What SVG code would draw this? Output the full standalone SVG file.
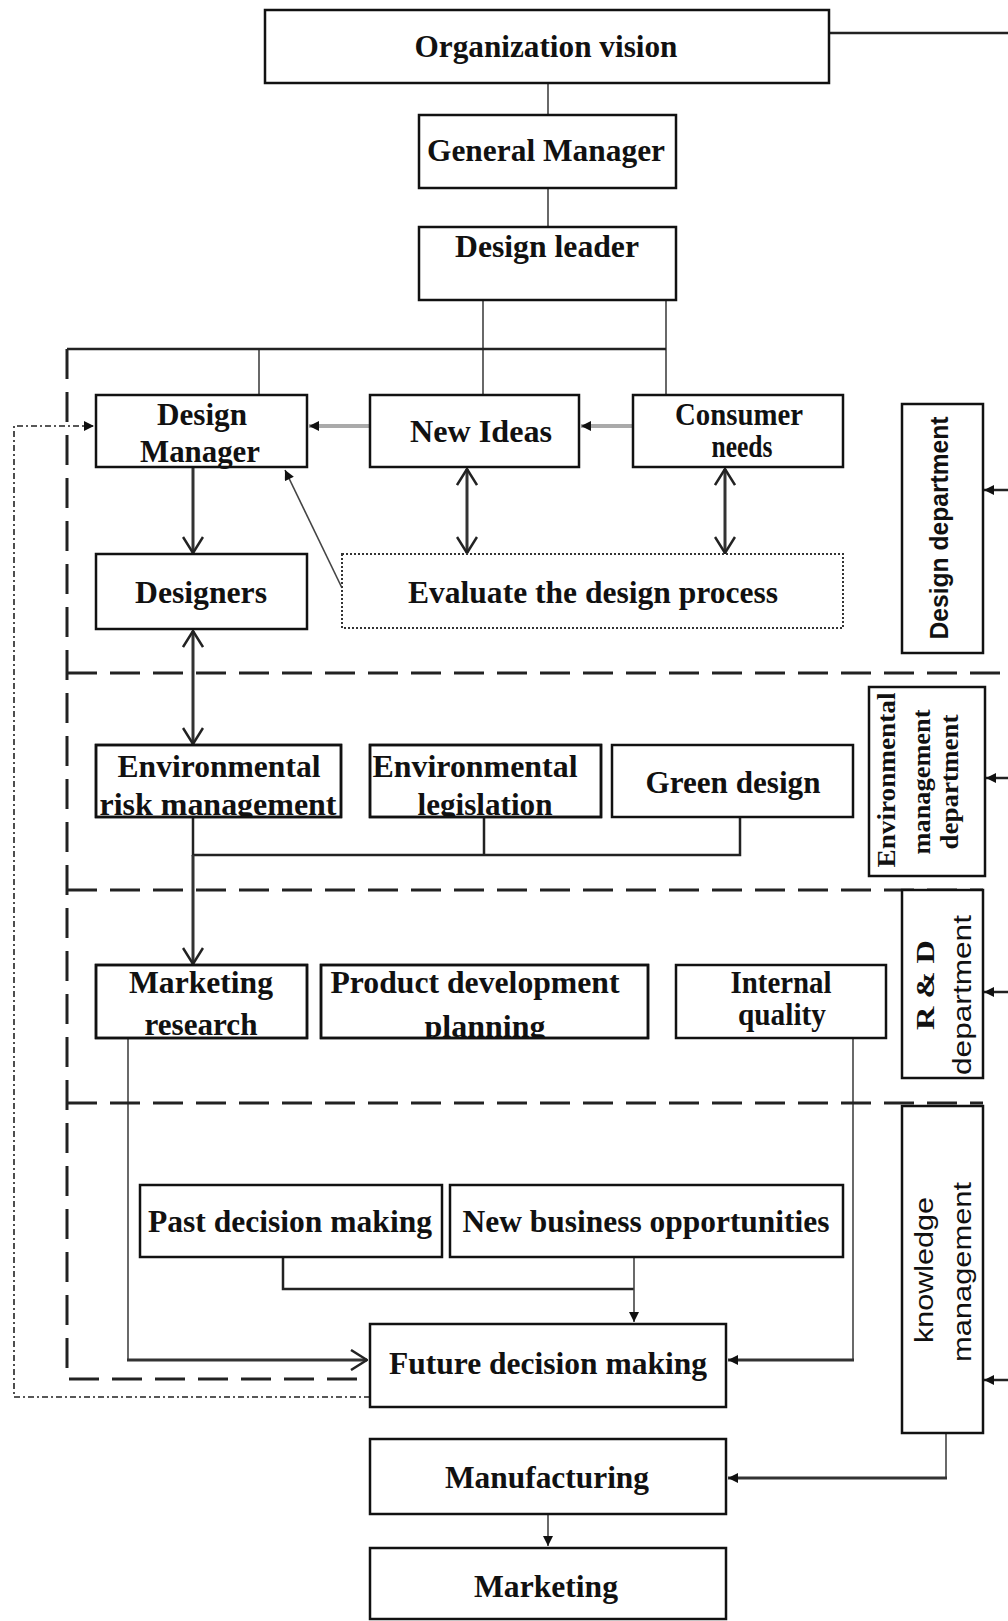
<svg xmlns="http://www.w3.org/2000/svg" width="1008" height="1621" viewBox="0 0 1008 1621">
<style>
.box{fill:#fff;stroke:#111;stroke-width:2.5}
.t{font-family:"Liberation Serif","Times New Roman",serif;font-weight:bold;font-size:31px;fill:#111;text-anchor:middle}
.v{font-family:"Liberation Serif","Times New Roman",serif;font-weight:bold;font-size:25px;fill:#111;text-anchor:middle}
.vs{font-family:"Liberation Sans",Arial,sans-serif;font-size:26px;fill:#111;text-anchor:middle}
.thin{fill:none;stroke:#444;stroke-width:1.6}
.mid{fill:none;stroke:#222;stroke-width:2.5}
.thick{fill:none;stroke:#333;stroke-width:3}
.gray{fill:none;stroke:#aaa;stroke-width:4}
.dash{fill:none;stroke:#222;stroke-width:3;stroke-dasharray:30 13}
.dashdot{fill:none;stroke:#222;stroke-width:1.6;stroke-dasharray:6 3 2 3}
</style>
<defs>
<marker id="tri" viewBox="0 0 10 10" refX="10" refY="5" markerWidth="11" markerHeight="10" markerUnits="userSpaceOnUse" orient="auto-start-reverse"><path d="M0,0 L10,5 L0,10 z" fill="#111"/></marker>
<marker id="chev" viewBox="0 0 18 22" refX="17" refY="11" markerWidth="18" markerHeight="22" markerUnits="userSpaceOnUse" orient="auto-start-reverse"><path d="M1,1 L17,11 L1,21" fill="none" stroke="#222" stroke-width="2.5"/></marker>
<clipPath id="c-erm"><rect x="96" y="745" width="245" height="72"/></clipPath>
<clipPath id="c-el"><rect x="370" y="745" width="231" height="72"/></clipPath>
<clipPath id="c-mr"><rect x="96" y="965" width="211" height="73"/></clipPath>
<clipPath id="c-pdp"><rect x="321" y="965" width="327" height="73"/></clipPath>
</defs>

<g id="connectors">
<path class="thin" d="M548,83 V115 M548,188 V227 M483,300 V395 M666,300 V395 M259,349 V395"/>
<path class="mid" d="M67,349 H666"/>
<path class="mid" d="M829,33 H1008"/>
<path class="gray" d="M370,426 H309" marker-end="url(#tri)"/>
<path class="gray" d="M633,426 H581" marker-end="url(#tri)"/>
<path class="dashdot" d="M370,1397 H14 V426 H94" marker-end="url(#tri)"/>
<path class="thin" d="M342,588 L285,470" marker-end="url(#tri)"/>
<path class="thick" d="M193,467 V553" marker-end="url(#chev)"/>
<path class="thick" d="M467,469 V553" marker-start="url(#chev)" marker-end="url(#chev)"/>
<path class="thick" d="M725,469 V553" marker-start="url(#chev)" marker-end="url(#chev)"/>
<path class="thick" d="M193,631 V744" marker-start="url(#chev)" marker-end="url(#chev)"/>
<path class="mid" d="M193,817 V855 H740 V817 M484,817 V855"/>
<path class="thick" d="M193,855 V964" marker-end="url(#chev)"/>
<path class="thin" d="M128,1038 V1360"/>
<path class="thick" d="M127,1360 H367" marker-end="url(#chev)"/>
<path class="thin" d="M853,1038 V1360"/>
<path class="thick" d="M854,1360 H728" marker-end="url(#tri)"/>
<path class="mid" d="M283,1257 V1289 H634"/>
<path class="thin" d="M634,1257 V1322" marker-end="url(#tri)"/>
<path class="thin" d="M946,1433 V1478"/>
<path class="thick" d="M947,1478 H728" marker-end="url(#tri)"/>
<path class="thin" d="M548,1514 V1546" marker-end="url(#tri)"/>
<path class="mid" d="M1008,490 H984" marker-end="url(#tri)"/>
<path class="mid" d="M1008,778 H986" marker-end="url(#tri)"/>
<path class="mid" d="M1008,992 H984" marker-end="url(#tri)"/>
<path class="mid" d="M1008,1380 H984" marker-end="url(#tri)"/>
<path class="dash" d="M67,349 V1379 H369"/>
<path class="dash" d="M67,673 H1008"/>
<path class="dash" d="M67,890 H983"/>
<path class="dash" d="M67,1103 H983"/>
</g>

<g id="org-vision"><rect class="box" x="265" y="10" width="564" height="73"/><text class="t" x="546" y="57" textLength="263" lengthAdjust="spacingAndGlyphs">Organization vision</text></g>
<g id="general-manager"><rect class="box" x="419" y="115" width="257" height="73"/><text class="t" x="546" y="161" textLength="238" lengthAdjust="spacingAndGlyphs">General Manager</text></g>
<g id="design-leader"><rect class="box" x="419" y="227" width="257" height="73"/><text class="t" x="547" y="257" textLength="184" lengthAdjust="spacingAndGlyphs">Design leader</text></g>
<g id="design-manager"><rect class="box" x="96" y="395" width="211" height="72"/><text class="t" x="202" y="425" textLength="90" lengthAdjust="spacingAndGlyphs">Design</text><text class="t" x="200" y="462" textLength="120" lengthAdjust="spacingAndGlyphs">Manager</text></g>
<g id="new-ideas"><rect class="box" x="370" y="395" width="209" height="72"/><text class="t" x="481" y="442" textLength="142" lengthAdjust="spacingAndGlyphs">New Ideas</text></g>
<g id="consumer-needs"><rect class="box" x="633" y="395" width="210" height="72"/><text class="t" x="739" y="425" textLength="128" lengthAdjust="spacingAndGlyphs">Consumer</text><text class="t" x="742" y="457" textLength="61" lengthAdjust="spacingAndGlyphs">needs</text></g>
<g id="designers"><rect class="box" x="96" y="554" width="211" height="75"/><text class="t" x="201" y="603" textLength="132" lengthAdjust="spacingAndGlyphs">Designers</text></g>
<g id="evaluate"><rect x="342" y="554" width="501" height="74" fill="#fff" stroke="#333" stroke-width="2" stroke-dasharray="2 2"/><text class="t" x="593" y="603" textLength="370" lengthAdjust="spacingAndGlyphs">Evaluate the design process</text></g>
<g id="design-department"><rect class="box" x="902" y="404" width="81" height="249"/><text class="v" style="font-family:'Liberation Sans',Arial,sans-serif" transform="translate(939,528) rotate(-90)" x="0" y="9" textLength="223" lengthAdjust="spacingAndGlyphs">Design department</text></g>

<g id="env-risk"><rect class="box" x="96" y="745" width="245" height="72"/><g clip-path="url(#c-erm)"><text class="t" x="219" y="777" textLength="203" lengthAdjust="spacingAndGlyphs">Environmental</text><text class="t" x="218" y="815" textLength="237" lengthAdjust="spacingAndGlyphs">risk management</text></g><rect x="96" y="745" width="245" height="72" fill="none" stroke="#111" stroke-width="2.5"/></g>
<g id="env-legislation"><rect class="box" x="370" y="745" width="231" height="72"/><g clip-path="url(#c-el)"><text class="t" x="475" y="777" textLength="205" lengthAdjust="spacingAndGlyphs">Environmental</text><text class="t" x="485" y="815" textLength="135" lengthAdjust="spacingAndGlyphs">legislation</text></g><rect x="370" y="745" width="231" height="72" fill="none" stroke="#111" stroke-width="2.5"/></g>
<g id="green-design"><rect class="box" x="612" y="745" width="241" height="72"/><text class="t" x="733" y="793" textLength="175" lengthAdjust="spacingAndGlyphs">Green design</text></g>
<g id="env-department"><rect class="box" x="869" y="687" width="116" height="189"/><text class="v" transform="translate(887,780) rotate(-90)" x="0" y="8" textLength="175" lengthAdjust="spacingAndGlyphs">Environmental</text><text class="v" transform="translate(922,782) rotate(-90)" x="0" y="8" textLength="145" lengthAdjust="spacingAndGlyphs">management</text><text class="v" transform="translate(950,782) rotate(-90)" x="0" y="8" textLength="135" lengthAdjust="spacingAndGlyphs">department</text></g>

<g id="marketing-research"><rect class="box" x="96" y="965" width="211" height="73"/><g clip-path="url(#c-mr)"><text class="t" x="201" y="993" textLength="144" lengthAdjust="spacingAndGlyphs">Marketing</text><text class="t" x="201" y="1035" textLength="113" lengthAdjust="spacingAndGlyphs">research</text></g><rect x="96" y="965" width="211" height="73" fill="none" stroke="#111" stroke-width="2.5"/></g>
<g id="product-development"><rect class="box" x="321" y="965" width="327" height="73"/><g clip-path="url(#c-pdp)"><text class="t" x="475" y="993" textLength="289" lengthAdjust="spacingAndGlyphs">Product development</text><text class="t" x="485" y="1037" textLength="121" lengthAdjust="spacingAndGlyphs">planning</text></g><rect x="321" y="965" width="327" height="73" fill="none" stroke="#111" stroke-width="2.5"/></g>
<g id="internal-quality"><rect class="box" x="676" y="965" width="210" height="73"/><text class="t" x="781" y="993" textLength="101" lengthAdjust="spacingAndGlyphs">Internal</text><text class="t" x="782" y="1025" textLength="88" lengthAdjust="spacingAndGlyphs">quality</text></g>
<g id="rd-department"><rect class="box" x="902" y="890" width="81" height="188"/><text class="v" transform="translate(925,985) rotate(-90)" x="0" y="9" font-size="27" textLength="90" lengthAdjust="spacingAndGlyphs">R &amp; D</text><text class="vs" transform="translate(963,995) rotate(-90)" x="0" y="8" textLength="160" lengthAdjust="spacingAndGlyphs">department</text></g>

<g id="past-decision"><rect class="box" x="140" y="1185" width="302" height="72"/><text class="t" x="290" y="1232" textLength="284" lengthAdjust="spacingAndGlyphs">Past decision making</text></g>
<g id="new-business"><rect class="box" x="450" y="1185" width="393" height="72"/><text class="t" x="646" y="1232" textLength="367" lengthAdjust="spacingAndGlyphs">New business opportunities</text></g>
<g id="knowledge-management"><rect class="box" x="902" y="1106" width="81" height="327"/><text class="vs" transform="translate(925,1270) rotate(-90)" x="0" y="8" textLength="146" lengthAdjust="spacingAndGlyphs">knowledge</text><text class="vs" transform="translate(963,1272) rotate(-90)" x="0" y="8" textLength="180" lengthAdjust="spacingAndGlyphs">management</text></g>
<g id="future-decision"><rect class="box" x="370" y="1324" width="356" height="83"/><text class="t" x="548" y="1374" textLength="318" lengthAdjust="spacingAndGlyphs">Future decision making</text></g>
<g id="manufacturing"><rect class="box" x="370" y="1439" width="356" height="75"/><text class="t" x="547" y="1488" textLength="204" lengthAdjust="spacingAndGlyphs">Manufacturing</text></g>
<g id="marketing"><rect class="box" x="370" y="1548" width="356" height="71"/><text class="t" x="546" y="1597" textLength="144" lengthAdjust="spacingAndGlyphs">Marketing</text></g>
</svg>
